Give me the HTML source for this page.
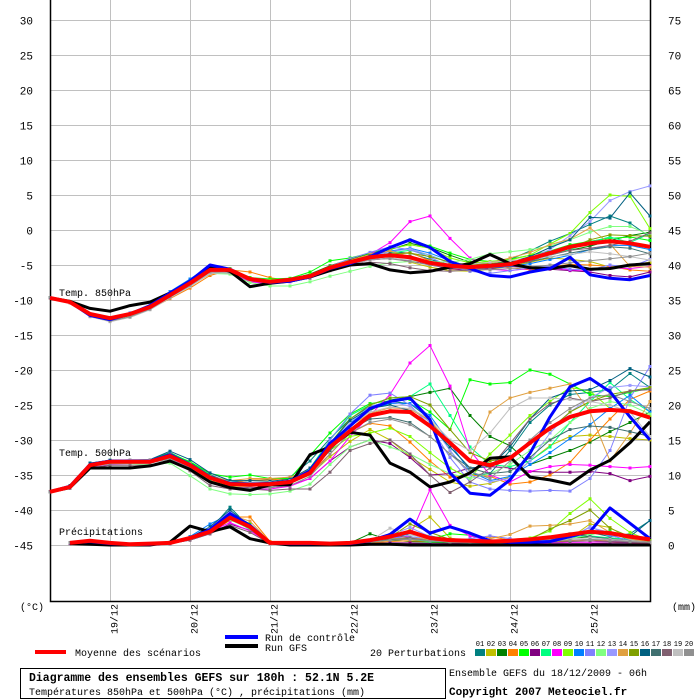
<!DOCTYPE html>
<html><head><meta charset="utf-8"><style>
html,body{margin:0;padding:0;background:#fff;width:700px;height:700px;overflow:hidden}
svg{display:block}
text{font-family:"Liberation Mono",monospace}
</style></head><body>
<svg id="chart" width="700" height="700" viewBox="0 0 700 700" xmlns="http://www.w3.org/2000/svg">
<g id="grid"></g>
<g id="axes"></g>
<g id="series"></g>
<text x="59" y="296" font-size="10">Temp. 850hPa</text>
<text x="59" y="456" font-size="10">Temp. 500hPa</text>
<text x="59" y="535" font-size="10">Précipitations</text>
<text x="20" y="610" font-size="10">(°C)</text>
<text x="672" y="610" font-size="10">(mm)</text>
<g>
<rect x="35" y="650" width="31" height="4" fill="#ff0000"/>
<text x="75" y="656" font-size="10">Moyenne des scénarios</text>
<rect x="225" y="635" width="33" height="4" fill="#0000ff"/>
<text x="265" y="641" font-size="10">Run de contrôle</text>
<rect x="225" y="644" width="33" height="4" fill="#000"/>
<text x="265" y="651" font-size="10">Run GFS</text>
<text x="370" y="656" font-size="10">20 Perturbations</text>
<g id="swatches"></g>
</g>
<rect x="20.5" y="668.5" width="425" height="30" fill="none" stroke="#000"/>
<text x="29" y="681" font-size="11.5" font-weight="bold">Diagramme des ensembles GEFS sur 180h : 52.1N 5.2E</text>
<text x="29" y="695" font-size="10">Températures 850hPa et 500hPa (°C) , précipitations (mm)</text>
<text x="449" y="676" font-size="10">Ensemble GEFS du 18/12/2009 - 06h</text>
<text x="449" y="695" font-size="11" font-weight="bold">Copyright 2007 Meteociel.fr</text>
</svg>
<script>
const leftTicks=[30,25,20,15,10,5,0,-5,-10,-15,-20,-25,-30,-35,-40,-45];
const rightTicks=[75,70,65,60,55,50,45,40,35,30,25,20,15,10,5,0];
const dateLabels=["19/12","20/12","21/12","22/12","23/12","24/12","25/12"];
const colors=["#008080","#c0c000","#008000","#ff8000","#00ff00","#800080","#00ff80","#ff00ff","#80ff00","#0080ff","#8080ff","#80ff80","#9999ff","#e0a040","#80a000","#006080","#407070","#806070","#c0c0c0","#909090"];
const mean850=[-9.7,-10.3,-12,-12.6,-12,-11,-9.3,-7.6,-5.7,-5.7,-7,-7.4,-7.1,-6.6,-5.4,-4.6,-3.9,-3.6,-3.9,-4.7,-5.1,-5.3,-5.1,-4.9,-4.1,-3.3,-2.4,-1.9,-1.6,-1.9,-2.4];
const ctrl850=[-9.7,-10.3,-12.2,-12.8,-12,-10.8,-9,-7.3,-5,-5.6,-7,-7.5,-7.3,-6.7,-5.5,-4.8,-3.8,-2.5,-1.4,-2.5,-4.5,-5.5,-6.5,-6.7,-6,-5.5,-3.9,-6.4,-6.9,-7.1,-6.5];
const gfs850=[-9.7,-10.2,-11.2,-11.6,-10.8,-10.3,-9,-7.5,-5.2,-5.9,-8.1,-7.6,-7.3,-6.7,-5.8,-5,-4.8,-5.7,-6.1,-5.9,-5.3,-4.8,-3.5,-4.8,-5.4,-5.5,-5.1,-5.6,-5.5,-5,-4.8];
const p850_01=[-9.7,-10.3,-12.2,-12.8,-12.1,-11,-9.2,-7.4,-5.3,-5.8,-7.2,-7.5,-7.2,-6.5,-5.2,-4.3,-3.5,-3.1,-3.3,-4.2,-5.0,-5.4,-5.0,-4.2,-3.0,-1.6,-0.5,0.8,2.0,1.0,-1.0];
const p850_02=[-9.7,-10.2,-12.1,-12.9,-12.3,-11.2,-9.5,-7.8,-5.9,-5.5,-6.8,-7.3,-7.0,-6.4,-5.3,-4.4,-3.8,-3.9,-4.6,-5.3,-5.8,-5.9,-5.6,-5.2,-4.6,-4.0,-4.2,-4.5,-5.3,-5.0,-4.6];
const p850_03=[-9.7,-10.4,-12.3,-12.9,-12.2,-11.1,-9.4,-7.7,-5.6,-5.9,-7.1,-7.3,-7.0,-6.3,-5.1,-4.2,-3.4,-2.8,-1.9,-2.5,-3.6,-4.6,-4.9,-4.5,-4.1,-3.5,-2.9,-2.3,-1.5,-0.8,-0.3];
const p850_04=[-9.7,-10.3,-12.0,-12.5,-12.0,-11.3,-9.8,-8.3,-6.5,-5.7,-6.0,-6.8,-7.3,-6.8,-5.8,-4.9,-4.2,-3.6,-3.2,-4.4,-5.6,-5.6,-5.0,-5.4,-5.7,-5.3,-4.9,-5.0,-5.2,-5.7,-5.9];
const p850_05=[-9.7,-10.3,-12.1,-12.7,-12.0,-10.9,-9.1,-7.5,-5.5,-5.6,-6.8,-7.0,-6.9,-6.0,-4.4,-4.0,-3.3,-2.6,-1.4,-2.3,-3.3,-4.2,-4.5,-4.2,-3.6,-3.0,-2.1,-1.6,-1.2,-1.0,-1.5];
const p850_06=[-9.7,-10.3,-12.2,-12.8,-12.1,-11.0,-9.3,-7.7,-5.8,-6.1,-7.3,-7.6,-7.3,-6.8,-5.6,-4.9,-4.3,-4.0,-4.4,-5.0,-5.5,-5.8,-5.5,-5.2,-5.3,-5.6,-5.8,-6.0,-6.5,-6.7,-6.0];
const p850_07=[-9.7,-10.3,-12.0,-12.6,-12.1,-11.1,-9.4,-7.8,-5.9,-5.8,-7.0,-7.5,-7.2,-6.7,-5.5,-4.6,-3.9,-3.3,-2.9,-3.6,-4.7,-5.3,-5.4,-5.0,-4.4,-3.6,-2.8,-1.7,-1.0,-1.8,-0.5];
const p850_08=[-9.7,-10.3,-12.3,-12.9,-12.2,-11.2,-9.5,-7.8,-6.0,-6.2,-7.4,-7.7,-7.4,-6.7,-5.5,-4.6,-3.5,-1.8,1.2,2.0,-1.2,-4.0,-5.6,-5.8,-5.5,-5.4,-5.7,-5.8,-5.4,-5.5,-5.2];
const p850_09=[-9.7,-10.3,-12.2,-12.8,-12.1,-10.9,-9.2,-7.5,-5.6,-5.5,-6.9,-7.2,-7.0,-6.4,-5.2,-4.3,-3.5,-2.7,-2.1,-2.6,-4.0,-4.7,-4.5,-4.3,-3.6,-2.0,-0.5,2.5,5.0,4.8,0.2];
const p850_10=[-9.7,-10.3,-12.1,-12.6,-11.9,-10.8,-8.8,-7.0,-5.1,-5.8,-7.2,-7.6,-7.3,-6.6,-5.4,-4.6,-3.8,-3.0,-2.6,-3.3,-4.4,-5.2,-5.4,-5.2,-4.8,-4.2,-3.6,-2.8,-2.2,-2.2,-2.8];
const p850_11=[-9.7,-10.3,-12.1,-12.7,-12.0,-10.9,-9.2,-7.5,-5.8,-6.0,-7.1,-7.5,-7.2,-6.5,-5.2,-4.1,-3.2,-2.4,-2.8,-3.9,-5.2,-5.9,-6.2,-5.8,-5.4,-5.2,-5.6,-5.7,-5.0,-5.3,-4.2];
const p850_12=[-9.7,-10.4,-12.3,-13.0,-12.4,-11.3,-9.6,-8.0,-6.2,-6.3,-7.5,-8.0,-8.0,-7.4,-6.6,-5.9,-5.2,-4.7,-4.5,-4.5,-4.6,-4.2,-3.4,-3.1,-2.8,-2.3,-1.4,-0.3,0.5,0.5,-0.7];
const p850_13=[-9.7,-10.3,-12.0,-12.5,-11.8,-10.7,-9.0,-7.4,-5.4,-5.6,-7.0,-7.4,-7.1,-6.5,-5.3,-4.5,-3.8,-3.1,-2.7,-3.6,-4.8,-5.3,-5.2,-4.8,-4.0,-2.8,-0.8,1.2,4.2,5.5,6.3];
const p850_14=[-9.7,-10.3,-12.2,-12.7,-12.0,-11.2,-9.7,-8.0,-6.3,-5.8,-7.0,-7.4,-7.1,-6.6,-5.2,-4.3,-3.5,-3.0,-3.8,-4.7,-5.4,-5.2,-4.7,-4.0,-3.2,-2.1,-1.3,0.3,-2.0,-5.2,-5.3];
const p850_15=[-9.7,-10.4,-12.3,-12.9,-12.2,-11.1,-9.4,-7.6,-5.7,-5.9,-7.2,-7.5,-7.2,-6.5,-5.2,-4.4,-3.7,-3.4,-3.3,-3.8,-4.6,-5.0,-4.8,-4.5,-4.0,-3.4,-2.6,-1.4,-0.7,-0.8,-0.9];
const p850_16=[-9.7,-10.3,-12.1,-12.7,-12.0,-10.9,-9.1,-7.3,-5.1,-5.6,-7.0,-7.4,-7.2,-6.6,-5.3,-4.4,-3.7,-3.4,-3.8,-4.6,-5.1,-5.2,-4.9,-4.6,-3.8,-2.5,-1.4,1.8,1.7,5.3,2.0];
const p850_17=[-9.7,-10.3,-12.1,-12.7,-12.0,-11.0,-9.3,-7.6,-5.5,-5.8,-7.1,-7.5,-7.2,-6.6,-5.4,-4.6,-4.0,-3.7,-3.9,-4.7,-5.2,-5.5,-5.3,-5.0,-4.5,-3.9,-3.3,-2.8,-2.4,-2.6,-3.4];
const p850_18=[-9.7,-10.3,-12.2,-12.8,-12.2,-11.2,-9.6,-8.0,-6.0,-6.1,-7.2,-7.6,-7.3,-6.9,-5.8,-5.0,-4.6,-4.8,-5.4,-5.8,-5.9,-5.7,-5.4,-5.0,-4.4,-3.6,-2.9,-2.6,-2.2,-1.6,-0.4];
const p850_19=[-9.7,-10.4,-12.4,-13.1,-12.5,-11.4,-9.7,-8.1,-6.2,-6.1,-7.2,-7.6,-7.3,-6.8,-5.6,-4.9,-4.3,-4.0,-4.3,-4.8,-5.1,-4.9,-4.6,-4.4,-4.1,-3.8,-3.5,-3.1,-3.4,-3.8,-4.3];
const p850_20=[-9.7,-10.4,-12.3,-13.0,-12.4,-11.3,-9.6,-7.9,-6.0,-6.0,-7.1,-7.5,-7.3,-6.8,-5.6,-4.9,-4.2,-4.1,-4.5,-5.0,-5.4,-5.6,-5.7,-5.5,-5.3,-5.0,-4.7,-4.4,-4.1,-3.8,-3.3];
const mean500=[-37.4,-36.7,-33.6,-33.1,-33.1,-33.1,-32.3,-33.6,-35.4,-36.3,-36.4,-36.3,-36,-34.7,-31,-28.7,-26.5,-25.9,-26,-28,-30.4,-33,-33.6,-32.6,-30.4,-28.3,-26.7,-25.9,-25.7,-25.9,-26.8];
const ctrl500=[-37.4,-36.6,-33.5,-33,-33,-33,-32.1,-33.5,-35.3,-36.2,-36.3,-36.2,-35.9,-34.4,-30.5,-28,-25.5,-24.5,-24,-27.1,-34.7,-37.6,-37.9,-35.7,-31.9,-26.7,-22.4,-21.2,-23.1,-26.7,-30];
const gfs500=[-37.4,-36.8,-34,-34,-34,-33.7,-33,-34.2,-36,-36.8,-37.2,-36.4,-36.4,-32.1,-31,-28.9,-29.3,-33.3,-34.6,-36.7,-36,-34.7,-32.6,-32.4,-35.3,-35.7,-36.3,-34.3,-32.9,-30.4,-27.4];
const p500_01=[-37.4,-36.5,-33.3,-32.9,-32.9,-32.8,-31.8,-33.2,-35.0,-36.0,-35.8,-35.6,-35.3,-33.0,-29.8,-27.0,-25.2,-24.5,-24.8,-27.0,-31.5,-35.0,-34.8,-31.5,-27.5,-25.0,-23.5,-23.2,-22.8,-20.5,-22.5];
const p500_02=[-37.4,-36.8,-33.8,-33.4,-33.3,-33.2,-32.6,-34.0,-35.8,-36.6,-36.6,-36.4,-36.1,-35.0,-32.4,-30.2,-28.5,-30.0,-32.4,-34.2,-36.0,-36.6,-36.2,-35.3,-33.0,-30.8,-29.5,-29.3,-29.5,-29.8,-30.0];
const p500_03=[-37.4,-36.6,-33.5,-33.0,-33.0,-33.0,-32.2,-33.5,-35.3,-36.2,-36.3,-36.2,-35.9,-34.3,-31.0,-27.6,-25.8,-24.3,-23.8,-23.2,-22.6,-26.5,-29.5,-30.8,-33.5,-32.5,-31.5,-30.3,-28.8,-27.5,-26.0];
const p500_04=[-37.4,-36.7,-33.6,-33.0,-33.0,-33.0,-32.4,-33.8,-35.6,-36.2,-35.7,-35.7,-35.5,-34.8,-32.0,-29.0,-27.6,-28.0,-30.3,-33.0,-35.3,-35.0,-35.2,-36.3,-36.0,-35.0,-33.2,-30.0,-27.0,-24.2,-23.0];
const p500_05=[-37.4,-36.6,-33.4,-32.9,-32.9,-32.8,-31.9,-33.1,-34.8,-35.3,-35.0,-35.5,-35.5,-32.2,-29.0,-26.3,-24.8,-24.4,-24.2,-26.0,-28.5,-21.4,-22.0,-21.8,-20.0,-20.6,-22.0,-23.5,-23.8,-23.2,-22.6];
const p500_06=[-37.4,-36.8,-33.7,-33.3,-33.2,-33.2,-32.5,-34.0,-35.9,-36.8,-36.8,-36.8,-36.5,-35.5,-33.0,-31.0,-30.0,-30.5,-32.5,-35.0,-34.8,-34.0,-33.8,-34.0,-34.5,-34.6,-34.6,-34.5,-34.8,-35.8,-35.2];
const p500_07=[-37.4,-36.7,-33.6,-33.2,-33.2,-33.1,-32.3,-33.7,-35.6,-36.5,-36.6,-36.5,-36.2,-34.0,-30.0,-26.5,-25.0,-24.0,-23.8,-22.0,-26.5,-31.0,-33.5,-33.8,-33.0,-31.0,-27.5,-24.5,-21.8,-24.2,-26.0];
const p500_08=[-37.4,-36.8,-33.8,-33.5,-33.4,-33.3,-32.5,-34.0,-36.0,-37.0,-37.1,-37.0,-36.6,-35.5,-33.0,-29.5,-26.5,-23.5,-19.0,-16.5,-22.3,-31.5,-35.0,-36.0,-34.5,-33.8,-33.5,-33.6,-33.8,-34.0,-33.8];
const p500_09=[-37.4,-36.7,-33.6,-33.1,-33.1,-33.1,-32.3,-33.6,-35.5,-36.3,-36.4,-36.3,-36.0,-34.5,-31.5,-29.5,-29.0,-28.3,-29.5,-31.8,-34.0,-35.5,-32.0,-29.3,-26.5,-24.5,-22.5,-23.0,-25.5,-25.8,-26.5];
const p500_10=[-37.4,-36.6,-33.5,-33.1,-33.1,-33.0,-32.2,-33.4,-35.2,-36.0,-36.1,-36.1,-35.8,-34.2,-30.8,-27.6,-25.6,-24.8,-24.8,-26.5,-30.5,-34.5,-35.8,-35.2,-33.5,-31.8,-29.8,-27.8,-25.5,-23.6,-26.0];
const p500_11=[-37.4,-36.7,-33.6,-33.2,-33.2,-33.1,-32.2,-33.5,-35.4,-36.4,-36.5,-36.4,-36.1,-34.5,-30.0,-26.3,-23.6,-23.3,-25.0,-28.0,-32.5,-36.0,-37.0,-37.2,-37.3,-37.2,-37.3,-35.5,-31.5,-24.0,-19.5];
const p500_12=[-37.4,-36.8,-33.8,-33.4,-33.4,-33.5,-33.3,-35.1,-37.0,-37.7,-37.8,-37.7,-37.3,-36.3,-33.5,-31.0,-30.0,-31.0,-32.0,-33.5,-34.8,-35.5,-34.8,-33.5,-31.5,-30.0,-27.5,-25.5,-24.5,-25.0,-26.3];
const p500_13=[-37.4,-36.7,-33.6,-33.1,-33.0,-33.0,-32.0,-33.4,-35.3,-36.2,-36.3,-36.3,-36.0,-34.6,-31.2,-27.5,-25.2,-24.5,-25.2,-27.5,-31.5,-35.0,-36.0,-35.5,-33.0,-29.0,-26.0,-24.0,-22.5,-22.2,-22.4];
const p500_14=[-37.4,-36.7,-33.5,-33.0,-33.0,-32.9,-32.1,-33.4,-35.2,-35.8,-35.5,-35.5,-35.3,-34.3,-31.0,-28.0,-26.2,-25.4,-25.6,-27.2,-30.5,-33.0,-26.0,-24.0,-23.2,-22.6,-22.0,-26.0,-33.0,-29.0,-24.5];
const p500_15=[-37.4,-36.7,-33.6,-33.1,-33.1,-33.0,-32.2,-33.5,-35.4,-36.2,-36.2,-36.1,-35.8,-34.3,-30.5,-27.0,-25.0,-24.0,-23.8,-25.0,-28.5,-31.8,-33.0,-32.5,-30.5,-28.5,-26.0,-24.5,-23.5,-23.0,-22.5];
const p500_16=[-37.4,-36.5,-33.3,-32.9,-32.9,-32.8,-31.6,-32.8,-34.7,-35.8,-35.8,-35.9,-35.6,-34.0,-30.5,-27.2,-25.5,-25.0,-25.8,-28.0,-31.0,-34.0,-33.8,-31.0,-27.0,-24.0,-23.0,-22.8,-21.5,-19.8,-21.0];
const p500_17=[-37.4,-36.7,-33.6,-33.1,-33.1,-33.1,-32.3,-33.6,-35.4,-36.3,-36.4,-36.3,-36.0,-34.6,-31.5,-28.5,-27.0,-26.8,-27.5,-29.5,-32.0,-34.0,-34.8,-34.5,-32.5,-30.0,-28.5,-28.0,-28.2,-28.8,-29.5];
const p500_18=[-37.4,-36.9,-34.0,-33.6,-33.6,-33.6,-33.0,-34.4,-36.5,-37.0,-37.0,-37.2,-37.0,-37.0,-34.6,-31.5,-30.5,-30.0,-32.0,-35.0,-37.5,-36.0,-34.0,-30.5,-27.0,-24.8,-24.0,-24.5,-24.0,-23.0,-22.8];
const p500_19=[-37.4,-36.7,-33.6,-33.0,-32.8,-32.8,-32.2,-33.5,-35.3,-36.1,-36.2,-36.1,-35.8,-34.4,-31.0,-27.8,-26.0,-25.3,-25.5,-27.0,-30.0,-31.5,-29.0,-25.5,-24.0,-24.0,-24.2,-24.5,-25.0,-26.0,-29.5];
const p500_20=[-37.4,-36.8,-33.8,-33.3,-33.3,-33.3,-32.7,-34.0,-36.0,-36.8,-36.9,-36.8,-36.5,-35.2,-32.0,-29.0,-27.5,-27.0,-27.8,-29.5,-32.0,-34.5,-35.5,-33.0,-30.0,-27.5,-25.5,-24.0,-23.5,-24.5,-25.5];
const meanPr=[null,0.3,0.6,0.3,0.1,0.2,0.3,1.0,1.9,3.9,2.6,0.3,0.3,0.3,0.2,0.3,0.7,1.2,1.9,1.0,0.7,0.6,0.5,0.6,0.8,1.1,1.5,1.9,1.7,1.2,0.8];
const ctrlPr=[null,0.3,0.5,0.2,0.1,0.1,0.3,1.0,2.2,4.5,2.8,0.3,0.2,0.2,0.2,0.2,0.6,1.5,3.7,1.7,2.6,1.7,0.6,0.4,0.4,0.5,1.2,1.9,5.3,3.1,0.9];
const gfsPr=[null,0.2,0.1,0.0,0.0,0.0,0.4,2.7,1.9,2.6,0.9,0.3,0.0,0.0,0.0,0.0,0.1,0.1,0.0,0.0,0.0,0.0,0.0,0.0,0.0,0.0,0.0,0.0,0.0,0.0,0.0];
const pPr_01=[null,0.3,0.5,0.3,0.1,0.1,0.3,1.0,2.2,5.4,2.5,0.3,0.2,0.2,0.2,0.3,0.5,1.2,1.5,0.8,0.5,0.4,0.3,0.4,0.6,0.7,1.5,1.8,1.2,1.6,3.5];
const pPr_02=[null,0.3,0.4,0.2,0.1,0.1,0.2,0.8,1.8,3.5,2.8,0.4,0.2,0.2,0.1,0.2,0.5,0.8,2.2,4.0,1.0,0.5,0.4,0.3,0.3,0.5,1.0,3.0,2.5,0.8,0.3];
const pPr_03=[null,0.2,0.4,0.3,0.1,0.1,0.2,1.0,2.0,4.6,2.4,0.3,0.2,0.2,0.2,0.3,1.6,0.7,0.5,0.4,0.3,0.3,0.3,0.3,0.4,0.5,0.9,1.2,1.0,0.8,0.6];
const pPr_04=[null,0.3,0.5,0.3,0.1,0.1,0.3,0.9,2.3,4.0,4.0,0.5,0.2,0.2,0.2,0.2,0.3,0.5,0.6,0.5,0.4,0.4,1.2,0.7,0.4,0.4,0.6,0.8,0.5,0.3,0.3];
const pPr_05=[null,0.3,0.5,0.3,0.1,0.1,0.3,0.9,2.1,4.5,3.0,0.3,0.2,0.2,0.1,0.2,0.4,0.8,1.0,0.8,1.6,1.4,0.6,0.4,0.5,0.8,1.5,1.5,2.0,0.6,0.4];
const pPr_06=[null,0.2,0.4,0.2,0.1,0.1,0.2,0.7,1.6,3.0,2.1,0.2,0.1,0.1,0.1,0.1,0.2,0.3,0.3,0.2,0.2,0.2,0.2,0.2,0.2,0.2,0.2,0.2,0.3,0.3,0.3];
const pPr_07=[null,0.3,0.4,0.3,0.1,0.1,0.3,0.8,2.0,3.8,2.2,0.3,0.2,0.2,0.2,0.2,0.5,0.9,0.8,0.5,0.4,0.3,0.4,0.5,0.6,0.8,1.1,1.3,1.0,0.8,0.5];
const pPr_08=[null,0.3,0.4,0.3,0.1,0.1,0.2,0.8,1.9,3.2,2.0,0.3,0.2,0.2,0.2,0.2,0.4,0.9,1.3,7.9,2.8,1.3,0.5,0.3,0.2,0.3,0.4,0.4,0.5,0.5,0.4];
const pPr_09=[null,0.3,0.5,0.3,0.1,0.1,0.3,0.8,2.0,4.0,2.5,0.3,0.2,0.2,0.2,0.2,0.5,1.0,2.0,1.3,0.8,0.6,0.6,0.8,1.0,2.0,4.5,6.6,3.8,1.8,0.6];
const pPr_10=[null,0.3,0.4,0.3,0.1,0.1,0.3,1.2,3.0,4.4,2.6,0.3,0.2,0.2,0.2,0.3,0.5,0.9,1.6,1.3,0.7,0.5,0.4,0.4,0.5,0.7,1.0,2.0,1.4,0.6,0.4];
const pPr_11=[null,0.3,0.4,0.3,0.1,0.1,0.2,0.9,2.2,4.2,2.8,0.3,0.2,0.2,0.2,0.2,0.5,1.0,1.2,0.8,0.6,0.9,1.3,0.9,0.6,0.7,1.0,2.6,1.4,0.6,0.4];
const pPr_12=[null,0.3,0.5,0.3,0.1,0.1,0.3,0.9,2.0,3.6,2.3,0.3,0.2,0.2,0.2,0.2,0.4,0.7,0.9,0.7,0.5,0.4,0.4,0.4,0.5,0.6,0.8,1.6,1.8,0.9,0.5];
const pPr_13=[null,0.3,0.5,0.3,0.1,0.1,0.3,1.0,2.5,4.8,2.6,0.3,0.2,0.2,0.2,0.3,0.6,1.4,2.5,1.2,0.8,0.6,0.4,0.4,0.5,0.7,1.2,2.5,1.8,0.8,0.4];
const pPr_14=[null,0.3,0.4,0.3,0.1,0.1,0.3,0.9,2.2,4.3,3.4,0.4,0.2,0.2,0.2,0.2,0.4,0.9,1.0,0.8,0.6,0.5,0.9,1.5,2.7,2.8,3.0,3.5,1.8,0.8,0.5];
const pPr_15=[null,0.3,0.4,0.3,0.1,0.1,0.3,0.8,2.0,4.0,2.5,0.3,0.2,0.2,0.2,0.2,0.5,1.1,3.0,1.8,0.8,0.6,0.5,0.6,0.8,2.3,3.5,5.0,2.4,1.2,0.5];
const pPr_16=[null,0.3,0.5,0.3,0.1,0.1,0.3,1.1,2.6,5.0,2.7,0.3,0.2,0.2,0.2,0.3,0.6,1.2,1.8,1.0,0.6,0.5,0.5,0.6,0.8,1.0,1.5,1.8,1.6,1.2,3.5];
const pPr_17=[null,0.3,0.4,0.3,0.1,0.1,0.3,0.9,2.1,3.9,2.4,0.3,0.2,0.2,0.2,0.2,0.4,0.8,0.9,0.6,0.5,0.4,0.4,0.5,0.6,0.8,1.6,1.2,0.9,0.6,0.4];
const pPr_18=[null,0.3,0.4,0.3,0.1,0.1,0.2,0.7,1.6,2.8,1.8,0.2,0.1,0.1,0.1,0.2,0.5,1.5,1.0,0.6,0.4,0.3,0.3,0.3,0.3,0.4,0.5,0.6,0.5,0.4,0.3];
const pPr_19=[null,0.3,0.4,0.3,0.1,0.1,0.3,1.0,2.3,4.4,2.5,0.3,0.2,0.2,0.2,0.2,0.6,2.4,1.5,0.8,0.5,0.4,0.4,0.5,0.6,0.7,0.9,1.0,0.8,0.6,0.4];
const pPr_20=[null,0.3,0.4,0.3,0.1,0.1,0.3,0.9,2.1,3.8,2.3,0.3,0.2,0.2,0.2,0.2,0.4,0.7,0.8,0.6,0.4,0.4,0.4,0.4,0.5,0.6,0.7,0.8,0.7,0.5,0.4];

const NS="http://www.w3.org/2000/svg";
function xOf(i){return 50+20*i;}
function yT(v){return 230-7*v;}
function yP(mm){return 545-7*mm;}
function mk(tag,attrs,parent){const e=document.createElementNS(NS,tag);for(const k in attrs)e.setAttribute(k,attrs[k]);parent.appendChild(e);return e;}
const grid=document.getElementById('grid'),axes=document.getElementById('axes'),series=document.getElementById('series');
for(let k=0;k<leftTicks.length;k++){
  const y=yT(leftTicks[k])+0.5;
  const l=mk('line',{x1:50,x2:650,y1:y,y2:y,stroke:'#c0c0c0','stroke-width':1},grid);
  
  
  const t=mk('text',{x:33,y:y+4,'font-size':11,'text-anchor':'end'},axes);
  t.textContent=leftTicks[k];
  
  
  const r=mk('text',{x:668,y:yP(rightTicks[k])+4.5,'font-size':11},axes);
  r.textContent=rightTicks[k];
  
  
}
for(let d=0;d<dateLabels.length;d++){
  const x=110.5+80*d;
  const l=mk('line',{x1:x,x2:x,y1:0,y2:601,stroke:'#c0c0c0','stroke-width':1},grid);
  
  
  const t=mk('text',{x:0,y:0,'font-size':10,transform:`translate(${x+7},634) rotate(-90)`},axes);
  t.textContent=dateLabels[d];
  
  
}
const frame=mk('path',{d:'M50.5,0 V601.5 H650.5 V0',fill:'none',stroke:'#000','stroke-width':1.5},axes);



function drawLine(arr,yf,color,w,name,markers){
  let d='';
  for(let i=0;i<arr.length;i++){if(arr[i]===null)continue;d+=(d?'L':'M')+xOf(i)+','+yf(arr[i]).toFixed(1);}
  const p=mk('path',{d:d,fill:'none',stroke:color,'stroke-width':w,'stroke-linejoin':'round'},series);
  
  
  if(markers){for(let i=0;i<arr.length;i++){if(arr[i]===null)continue;
    const m=mk('rect',{x:xOf(i)-1.5,y:yf(arr[i])-1.5,width:3,height:3,fill:color},series);
    
    }}
}
const p850=[p850_01,p850_02,p850_03,p850_04,p850_05,p850_06,p850_07,p850_08,p850_09,p850_10,p850_11,p850_12,p850_13,p850_14,p850_15,p850_16,p850_17,p850_18,p850_19,p850_20];
const p500=[p500_01,p500_02,p500_03,p500_04,p500_05,p500_06,p500_07,p500_08,p500_09,p500_10,p500_11,p500_12,p500_13,p500_14,p500_15,p500_16,p500_17,p500_18,p500_19,p500_20];
const pPr=[pPr_01,pPr_02,pPr_03,pPr_04,pPr_05,pPr_06,pPr_07,pPr_08,pPr_09,pPr_10,pPr_11,pPr_12,pPr_13,pPr_14,pPr_15,pPr_16,pPr_17,pPr_18,pPr_19,pPr_20];
for(let m=0;m<20;m++){
  drawLine(p850[m],yT,colors[m],1,'perturbation-850-'+(m+1),true);
  drawLine(p500[m],yT,colors[m],1,'perturbation-500-'+(m+1),true);
  drawLine(pPr[m],yP,colors[m],1,'perturbation-precip-'+(m+1),true);
}
drawLine(gfs850,yT,'#000',3,'gfs-850',false);
drawLine(gfs500,yT,'#000',3,'gfs-500',false);
drawLine(gfsPr,yP,'#000',3,'gfs-precip',false);
drawLine(ctrl850,yT,'#0000ff',3,'control-850',false);
drawLine(ctrl500,yT,'#0000ff',3,'control-500',false);
drawLine(ctrlPr,yP,'#0000ff',3,'control-precip',false);
drawLine(mean850,yT,'#ff0000',4,'mean-850',false);
drawLine(mean500,yT,'#ff0000',4,'mean-500',false);
drawLine(meanPr,yP,'#ff0000',4,'mean-precip',false);

const sw=document.getElementById('swatches');
for(let m=0;m<20;m++){
  const x=475+11*m;
  const r=mk('rect',{x:x,y:649,width:10,height:7,fill:colors[m]},sw);
  
  
  const t=mk('text',{x:x+5,y:646,'font-size':7,'text-anchor':'middle'},sw);
  t.textContent=String(m+1).padStart(2,'0');
  
  
}
</script>
</body></html>
